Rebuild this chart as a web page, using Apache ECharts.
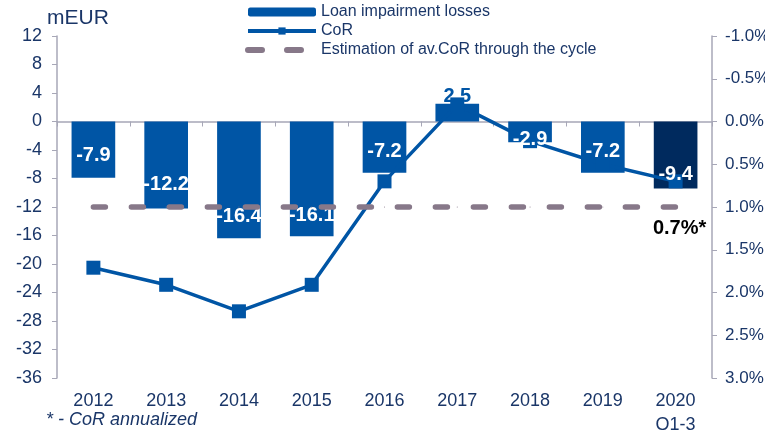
<!DOCTYPE html>
<html>
<head>
<meta charset="utf-8">
<script src="https://cdn.jsdelivr.net/npm/echarts@6/dist/echarts.min.js"></script>
<style>
html, body { margin: 0; padding: 0; background: #fff; }
#chart { width: 765px; height: 430px; }
</style>
</head>
<body>
<div id="chart"></div>
<script>
// data
var years = ['2012', '2013', '2014', '2015', '2016', '2017', '2018', '2019', '2020\nQ1-3'];
var impairment = [-7.9, -12.2, -16.4, -16.1, -7.2, 2.5, -2.9, -7.2, -9.4];
var cor = [1.71, 1.91, 2.22, 1.91, 0.70, -0.2, 0.23, 0.5, 0.7];
var avCoR = [1.0, 1.0, 1.0, 1.0, 1.0, 1.0, 1.0, 1.0, 1.0];
var avCoRNote = '0.7%*';
var leftAxis = { min: -36, max: 12, interval: 4 };
var rightAxis = { min: -1, max: 3, interval: 0.5 };

var blue = '#0055A5';
var darkBlue = '#002A5E';
var navy = '#1A3668';
var grey = '#A7A7B7';
var dashGrey = '#877889';
var font = '"Liberation Sans", Arial, sans-serif';

// labels of the short bars sit lower than the others
var labelDistance = { 1: 14, 3: 11, 4: 11, 6: -7, 7: 11, 8: 4 };

var chart = echarts.init(document.getElementById('chart'));

// bars; only the positive bar keeps its label here (under the CoR line)
var barData = impairment.map(function (v, i) {
    var item = { value: v };
    if (i === impairment.length - 1) {
        item.itemStyle = { color: darkBlue };
    }
    if (v >= 0) {
        item.label = { show: true };
    }
    return item;
});

// transparent copy of the bars that carries the white labels above the line
var labelData = impairment.map(function (v, i) {
    var item = { value: v };
    if (v >= 0) {
        item.label = { show: false };
    } else if (labelDistance[i] !== undefined) {
        item.label = { distance: labelDistance[i] };
    }
    return item;
});

var dashData = avCoR.map(function (v, i) {
    var item = { value: v };
    if (i === avCoR.length - 1) {
        item.label = {
            show: true,
            position: 'bottom',
            distance: 11,
            offset: [4, 0],
            formatter: avCoRNote,
            color: '#000',
            fontSize: 20,
            fontWeight: 'bold',
            fontFamily: font
        };
    }
    return item;
});

var option = {
    animation: false,
    textStyle: { fontFamily: font },
    title: {
        text: 'mEUR',
        left: 47,
        top: 8,
        padding: 0,
        textStyle: { color: navy, fontSize: 21, fontWeight: 'normal', fontFamily: font }
    },
    legend: {
        orient: 'vertical',
        left: 245,
        top: 4,
        padding: 0,
        itemWidth: 68,
        itemHeight: 9,
        itemGap: 3,
        textStyle: { color: navy, fontSize: 16, fontFamily: font },
        data: [
            { name: 'Loan impairment losses' },
            { name: 'CoR', lineStyle: { width: 4 } },
            {
                name: 'Estimation of av.CoR through the cycle',
                itemStyle: { opacity: 0 },
                lineStyle: { width: 6, type: [14, 25], cap: 'round' }
            }
        ]
    },
    grid: { left: 57, right: 53, top: 36, bottom: 52, outerBoundsMode: 'none' },
    xAxis: [
        {
            type: 'category',
            position: 'bottom',
            data: years,
            axisLine: { onZero: true, lineStyle: { color: grey, width: 1.5 } },
            axisTick: { show: true, length: 5, lineStyle: { color: grey } },
            axisLabel: { show: false }
        },
        {
            type: 'category',
            position: 'bottom',
            data: years,
            axisLine: { show: false, onZero: false },
            axisTick: { show: false },
            axisLabel: { color: navy, fontSize: 18, margin: 11, lineHeight: 24, fontFamily: font }
        }
    ],
    yAxis: [
        {
            type: 'value',
            min: leftAxis.min,
            max: leftAxis.max,
            interval: leftAxis.interval,
            splitLine: { show: false },
            axisLine: { show: true, lineStyle: { color: grey, width: 1.5 } },
            axisTick: { show: true, length: 5, lineStyle: { color: grey } },
            axisLabel: { color: navy, fontSize: 18, margin: 15, fontFamily: font }
        },
        {
            type: 'value',
            position: 'right',
            inverse: true,
            min: rightAxis.min,
            max: rightAxis.max,
            interval: rightAxis.interval,
            splitLine: { show: false },
            axisLine: { show: true, lineStyle: { color: grey, width: 1.5 } },
            axisTick: { show: true, length: 5, lineStyle: { color: grey } },
            axisLabel: {
                color: navy, fontSize: 17, margin: 13, fontFamily: font,
                formatter: function (v) { return v.toFixed(1) + '%'; }
            }
        }
    ],
    series: [
        {
            name: 'Loan impairment losses',
            type: 'bar',
            xAxisIndex: 0,
            yAxisIndex: 0,
            barWidth: '60%',
            itemStyle: { color: blue },
            label: {
                show: false,
                position: 'top',
                distance: -3,
                color: blue,
                fontSize: 20,
                fontWeight: 'bold',
                fontFamily: font
            },
            data: barData
        },
        {
            name: 'labels',
            type: 'bar',
            xAxisIndex: 0,
            yAxisIndex: 0,
            barWidth: '60%',
            barGap: '-100%',
            z: 6,
            silent: true,
            itemStyle: { color: 'rgba(0,0,0,0)' },
            label: {
                show: true,
                position: 'insideBottom',
                distance: 12,
                color: '#fff',
                fontSize: 20,
                fontWeight: 'bold',
                fontFamily: font
            },
            data: labelData
        },
        {
            name: 'CoR',
            type: 'line',
            xAxisIndex: 0,
            yAxisIndex: 1,
            symbol: 'rect',
            symbolSize: 14,
            itemStyle: { color: blue },
            lineStyle: { color: blue, width: 3.5 },
            z: 3,
            data: cor
        },
        {
            name: 'Estimation of av.CoR through the cycle',
            type: 'line',
            xAxisIndex: 0,
            yAxisIndex: 1,
            symbol: 'circle',
            symbolSize: 1,
            itemStyle: { color: dashGrey },
            lineStyle: { color: dashGrey, width: 5.5, type: [12, 26], cap: 'round' },
            z: 7,
            data: dashData
        }
    ],
    graphic: [
        {
            type: 'text',
            left: 46,
            top: 411,
            style: {
                text: '* - CoR annualized',
                fill: navy,
                font: 'italic 18px "Liberation Sans", Arial, sans-serif'
            }
        }
    ]
};

chart.setOption(option);
</script>
</body>
</html>
